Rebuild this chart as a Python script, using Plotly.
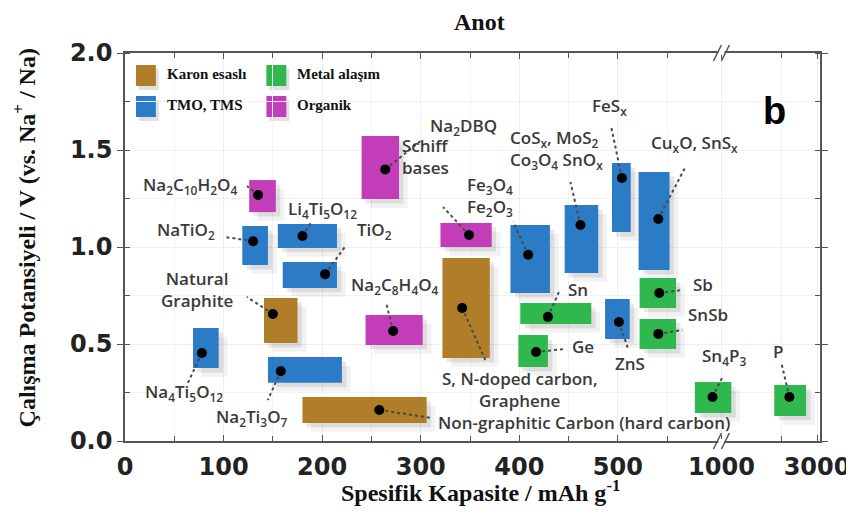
import numpy as np
import plotly.graph_objects as go

# ---------------- data ----------------
materials = ["Na4Ti5O12", "NaTiO2", "Na2C10H2O4", "Li4Ti5O12", "TiO2", "Natural Graphite",
             "Na2Ti3O7", "Non-graphitic Carbon", "Na2C8H4O4", "Na2DBQ", "Schiff bases",
             "S,N-doped carbon", "Fe3O4/Fe2O3", "Sn", "Ge", "CoSx/MoS2/Co3O4/SnOx", "FeSx",
             "ZnS", "CuxO/SnSx", "Sb", "SnSb", "Sn4P3", "P"]
material_class = ["TMO", "TMO", "Org", "TMO", "TMO", "C",
                  "TMO", "C", "Org", "Org", "Org",
                  "C", "TMO", "Alloy", "Alloy", "TMO", "TMO",
                  "TMO", "TMO", "Alloy", "Alloy", "Alloy", "Alloy"]
cap_low = [69, 119, 126, 155, 160, 141, 145, 180, 244, 240, 320, 322, 391, 401, 399, 446, 494,
           487, 521, 522, 522, 737, 1835]
cap_high = [95, 145, 153, 215, 215, 175, 220, 306, 302, 278, 372, 370, 431, 473, 429, 480, 513,
            512, 551, 594, 594, 1120, 2646]
cap_mid = [78, 130, 135, 180, 203, 150, 158, 258, 272, 264, 349, 342, 409, 429, 417, 462, 504,
           501, 541, 542, 541, 903, 2183]
volt_low = [0.376, 0.907, 1.180, 0.995, 0.789, 0.505, 0.300, 0.093, 0.495, 1.247, 1.000, 0.428,
            0.763, 0.603, 0.381, 0.866, 1.077, 0.526, 0.881, 0.686, 0.474, 0.144, 0.129]
volt_high = [0.582, 1.108, 1.345, 1.119, 0.923, 0.737, 0.433, 0.227, 0.649, 1.572, 1.124, 0.943,
             1.113, 0.711, 0.546, 1.216, 1.433, 0.732, 1.387, 0.840, 0.629, 0.304, 0.289]
volt_mid = [0.454, 1.030, 1.268, 1.057, 0.860, 0.655, 0.360, 0.160, 0.567, 1.400, 1.062, 0.686,
            0.960, 0.640, 0.459, 1.113, 1.356, 0.613, 1.144, 0.763, 0.552, 0.227, 0.227]
label_text = [
    "Na<sub>4</sub>Ti<sub>5</sub>O<sub>12</sub>", "NaTiO<sub>2</sub>",
    "Na<sub>2</sub>C<sub>10</sub>H<sub>2</sub>O<sub>4</sub>", "Li<sub>4</sub>Ti<sub>5</sub>O<sub>12</sub>",
    "TiO<sub>2</sub>", "Natural<br>Graphite", "Na<sub>2</sub>Ti<sub>3</sub>O<sub>7</sub>",
    "Non-graphitic Carbon (hard carbon)", "Na<sub>2</sub>C<sub>8</sub>H<sub>4</sub>O<sub>4</sub>",
    "Na<sub>2</sub>DBQ", "Schiff<br>bases", "S, N-doped carbon,<br>Graphene",
    "Fe<sub>3</sub>O<sub>4</sub><br>Fe<sub>2</sub>O<sub>3</sub>", "Sn", "Ge",
    "CoS<sub>x</sub>, MoS<sub>2</sub><br>Co<sub>3</sub>O<sub>4</sub> SnO<sub>x</sub>",
    "FeS<sub>x</sub>", "ZnS", "Cu<sub>x</sub>O, SnS<sub>x</sub>", "Sb", "SnSb",
    "Sn<sub>4</sub>P<sub>3</sub>", "P"]

class_names = {"C": "Karon esaslı", "Alloy": "Metal alaşım", "TMO": "TMO, TMS", "Org": "Organik"}
x_major_vals = [0, 100, 200, 300, 400, 500, 1000, 3000]
x_major_text = ["0", "100", "200", "300", "400", "500", "1000", "3000"]
x_minor_vals = [50, 150, 250, 350, 450, 550, 2000]
y_major_vals = [0.0, 0.5, 1.0, 1.5, 2.0]

# ---------------- styles / layout (not data) ----------------
colors = {"C": "#b07d28", "Alloy": "#2fb84e", "TMO": "#2b7bc6", "Org": "#c23db7"}
# label placement relative to the dot: (xshift px, yshift px, leader dx, leader dy, xanchor, align)
label_place = [
    (-18, -40, -14, -30, "center", "center"),
    (-67, 11, -27, 4, "center", "center"),
    (-68, 10, -11, 9, "center", "center"),
    (20, 26, 9, 14, "center", "center"),
    (49, 44, 21, 29, "center", "center"),
    (-76, 24, -26, 17, "center", "center"),
    (-29, -46, -13, -29, "center", "center"),
    (57, -13, 52, -8, "left", "left"),
    (2, 46, -7, 28, "center", "center"),
    (78, 43, 36, 29, "center", "center"),
    (-44, 78, -26, 28, "center", "left"),
    (58, -82, 24, -54, "center", "center"),
    (-38, 58, -15, 33, "center", "left"),
    (30, 27, 12, 27, "center", "center"),
    (47, 5, 29, 3, "center", "center"),
    (-24, 76, -10, 43, "center", "left"),
    (-12, 71, -11, 53, "center", "center"),
    (11, -41, 9, -26, "center", "center"),
    (36, 76, 27, 52, "center", "center"),
    (44, 8, 23, 3, "center", "center"),
    (50, 19, 24, 4, "center", "center"),
    (11, 40, 10, 20, "center", "center"),
    (-11, 45, -8, 34, "center", "center"),
]

W, H = 854, 521
PAGE_OFF = 8                      # browser body margin that shifts the figure
PL, PT, PR, PB = 125, 53, 823, 441  # plot area in page pixels
ML, MT = PL - PAGE_OFF, PT - PAGE_OFF
MR, MB = W - (PR - PAGE_OFF), H - (PB - PAGE_OFF)
XR = 705.0
PW, PH = PR - PL, PB - PT
px_per_x = PW / XR
px_per_y = PH / 2.0


def xpos(v):
    """Broken capacity axis: linear up to 550 mAh/g, then compressed log segment (1000, 3000)."""
    v = np.asarray(v, dtype=float)
    return np.where(v <= 550, v, 605 + 97 * np.log(np.maximum(v, 1e-9) / 1000) / np.log(3))


def paper_x(px):
    return (px - PL) / PW


def paper_y(py):
    return (PB - py) / PH


fig = go.Figure()
shapes = []
annotations = []

x0s, x1s, xms = xpos(cap_low), xpos(cap_high), xpos(cap_mid)

# shadows then boxes
sx, sy = 4 / px_per_x, 4 / px_per_y
for i in range(len(materials)):
    for k, a in ((2.2, 0.05), (1.1, 0.09)):
        shapes.append(dict(type="rect", xref="x", yref="y", layer="between",
                           x0=x0s[i] + k * sx, x1=x1s[i] + k * sx,
                           y0=volt_low[i] - k * sy, y1=volt_high[i] - k * sy,
                           fillcolor=f"rgba(0,0,0,{a})", line=dict(width=0)))
for i in range(len(materials)):
    shapes.append(dict(type="rect", xref="x", yref="y", layer="between",
                       x0=x0s[i], x1=x1s[i], y0=volt_low[i], y1=volt_high[i],
                       fillcolor=colors[material_class[i]], line=dict(width=0)))

# leaders + labels
for i in range(len(materials)):
    xs, ys, ldx, ldy, xa, al = label_place[i]
    shapes.append(dict(type="line", xref="x", yref="y", layer="between",
                       xsizemode="pixel", ysizemode="pixel",
                       xanchor=float(xms[i]), yanchor=volt_mid[i],
                       x0=0, y0=0, x1=ldx, y1=ldy,
                       line=dict(color="#4a4a4a", width=2, dash="dot")))
    annotations.append(dict(x=float(xms[i]), y=volt_mid[i], xref="x", yref="y",
                            text=label_text[i], showarrow=False,
                            xshift=xs, yshift=ys, xanchor=xa, yanchor="middle", align=al,
                            font=dict(family="Open Sans", size=17, color="#3a3a3a", weight=600)))

fig.add_trace(go.Scatter(x=xms, y=volt_mid, mode="markers",
                         marker=dict(color="black", size=10),
                         hoverinfo="text", text=materials, showlegend=False))

# legend block (drawn manually as in the reference)
shapes.append(dict(type="rect", xref="paper", yref="paper", layer="between",
                   x0=paper_x(128), x1=paper_x(385), y0=paper_y(124), y1=paper_y(56),
                   fillcolor="white", line=dict(width=0)))
leg_items = [("C", 136, 65, 165), ("Alloy", 267, 65, 296), ("TMO", 136, 96, 165), ("Org", 267, 96, 296)]
for cls, lx, ly, tx in leg_items:
    shapes.append(dict(type="rect", xref="paper", yref="paper", layer="between",
                       x0=paper_x(lx + 3), x1=paper_x(lx + 23), y0=paper_y(ly + 25), y1=paper_y(ly + 4),
                       fillcolor="rgba(0,0,0,0.12)", line=dict(width=0)))
    shapes.append(dict(type="rect", xref="paper", yref="paper", layer="between",
                       x0=paper_x(lx), x1=paper_x(lx + 20), y0=paper_y(ly + 21), y1=paper_y(ly),
                       fillcolor=colors[cls], line=dict(width=0)))
    annotations.append(dict(x=paper_x(tx), y=paper_y(ly + 9), xref="paper", yref="paper",
                            text=class_names[cls], showarrow=False, xanchor="left", yanchor="middle",
                            font=dict(family="Liberation Serif", size=15, color="#111", weight="bold")))

# axis break marks
bx = paper_x(PL + xpos(1000) * px_per_x)
for yy in (paper_y(PT), paper_y(PB)):
    shapes.append(dict(type="rect", xref="paper", yref="paper", layer="above",
                       x0=bx - 3 / PW, x1=bx + 3 / PW, y0=yy - 2 / PH, y1=yy + 2 / PH,
                       fillcolor="white", line=dict(width=0)))
    for off in (-4, 4):
        shapes.append(dict(type="line", xref="paper", yref="paper", layer="above",
                           x0=bx + (off - 4) / PW, x1=bx + (off + 4) / PW,
                           y0=yy - 8 / PH, y1=yy + 8 / PH,
                           line=dict(color="#555", width=1.5)))

# panel letter, titles
annotations.append(dict(x=paper_x(791), y=paper_y(88), xref="paper", yref="paper", text="b",
                        showarrow=False, font=dict(family="Liberation Sans", size=38, color="black", weight="bold")))
annotations.append(dict(x=paper_x(481), y=paper_y(22), xref="paper", yref="paper", text="Anot",
                        showarrow=False, yanchor="middle",
                        font=dict(family="Liberation Serif", size=24, color="#111", weight="bold")))
annotations.append(dict(x=paper_x(482), y=paper_y(491), xref="paper", yref="paper",
                        text="Spesifik Kapasite / mAh g<sup>-1</sup>", showarrow=False, yanchor="middle",
                        font=dict(family="Liberation Serif", size=24, color="#111", weight="bold")))
annotations.append(dict(x=paper_x(24), y=paper_y(238), xref="paper", yref="paper",
                        text="Çalışma Potansiyeli / V (vs. Na<sup>+</sup> / Na)", showarrow=False,
                        textangle=-90, xanchor="center", yanchor="middle",
                        font=dict(family="Liberation Serif", size=24, color="#111", weight="bold")))

tick_font = dict(family="DejaVu Sans", size=24, color="#222", weight="bold")
fig.update_layout(
    width=W, height=H, margin=dict(l=ML, r=MR, t=MT, b=MB),
    paper_bgcolor="white", plot_bgcolor="white",
    shapes=shapes, annotations=annotations, showlegend=False,
    xaxis=dict(range=[0, XR], tickmode="array", tickvals=list(xpos(x_major_vals)), ticktext=x_major_text,
               ticks="inside", ticklen=6, tickcolor="#555", tickwidth=1.2, tickfont=tick_font,
               showline=True, linecolor="#555", linewidth=1.5, mirror="ticks",
               showgrid=True, gridcolor="#efefef", zeroline=False, ticklabelstandoff=3,
               minor=dict(tickmode="array", tickvals=list(xpos(x_minor_vals)), ticks="inside",
                          ticklen=5, tickcolor="#555", showgrid=True, gridcolor="#f2f2f2")),
    yaxis=dict(range=[0, 2.0], tickmode="array", tickvals=y_major_vals,
               ticktext=[f"{v:.1f}" for v in y_major_vals],
               ticks="outside", ticklen=6, tickcolor="#555", tickwidth=1.2, tickfont=tick_font,
               showline=True, linecolor="#555", linewidth=1.5, mirror="ticks",
               showgrid=True, gridcolor="#efefef", zeroline=False,
               minor=dict(dtick=0.25, ticks="inside", ticklen=5, tickcolor="#555",
                          showgrid=True, gridcolor="#f2f2f2")),
)

fig.write_html("out.html", config={"displayModeBar": False})
